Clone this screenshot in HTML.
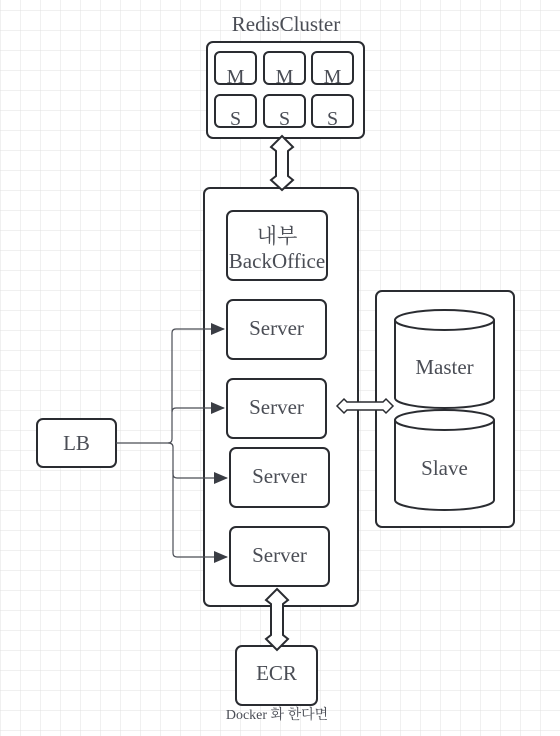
<!DOCTYPE html>
<html><head><meta charset="utf-8"><style>
html,body{margin:0;padding:0;background:#fff;}
svg{display:block;}
text{font-family:"Liberation Serif","Noto Serif CJK SC",serif;fill:#4a4d55;text-anchor:middle;}
</style></head><body>
<svg width="560" height="736" viewBox="0 0 560 736" xmlns="http://www.w3.org/2000/svg">
<defs>
<pattern id="g" width="20" height="20" patternUnits="userSpaceOnUse" x="0" y="10">
<path d="M0 0H20M0 0V20" stroke="#e0e0e0" stroke-width="1" fill="none"/>
</pattern>
<marker id="ar" markerWidth="14" markerHeight="12" refX="13" refY="6" orient="auto" markerUnits="userSpaceOnUse"><path d="M0,0 L14,6 L0,12 Z" fill="#3a3d44"/></marker>
</defs>
<rect width="560" height="736" fill="url(#g)"/>
<g fill="#fff" stroke="#2a2c31" stroke-width="2">
<rect x="207" y="42" width="157" height="96" rx="6"/>
<rect x="215" y="52" width="41" height="32" rx="5"/>
<rect x="264" y="52" width="41" height="32" rx="5"/>
<rect x="312" y="52" width="41" height="32" rx="5"/>
<rect x="215" y="95" width="41" height="32" rx="5"/>
<rect x="264" y="95" width="41" height="32" rx="5"/>
<rect x="312" y="95" width="41" height="32" rx="5"/>
<rect x="204" y="188" width="154" height="418" rx="6"/>
<rect x="227" y="211" width="100" height="69" rx="6"/>
<rect x="227" y="300" width="99" height="59" rx="6"/>
<rect x="227" y="379" width="99" height="59" rx="6"/>
<rect x="230" y="448" width="99" height="59" rx="6"/>
<rect x="230" y="527" width="99" height="59" rx="6"/>
<rect x="376" y="291" width="138" height="236" rx="6"/>
<path d="M395 320 V398 A49.5 10 0 0 0 494 398 V320"/>
<ellipse cx="444.5" cy="320" rx="49.5" ry="10"/>
<path d="M395 420 V500 A49.5 10 0 0 0 494 500 V420"/>
<ellipse cx="444.5" cy="420" rx="49.5" ry="10"/>
<rect x="37" y="419" width="79" height="48" rx="6"/>
<rect x="236" y="646" width="81" height="59" rx="6"/>
<path d="M282 136 L293 147 L288 151 V176 L293 180 L282 190 L271 180 L276 176 V151 L271 147 Z"/>
<path d="M277 589 L288 600 L283 604 V635 L288 639 L277 650 L266 639 L271 635 V604 L266 600 Z"/>
<path d="M337 406 L344 399 L347 402 H383 L386 399 L393 406 L386 413 L383 410 H347 L344 413 Z" stroke-width="1.5"/>
</g>
<g fill="none" stroke="#4a4d55" stroke-width="1.2">
<path d="M116 443 H168 Q172 443 172 439 V333 Q172 329 176 329 H224" marker-end="url(#ar)"/>
<path d="M172 412 Q172 408 176 408 H224" marker-end="url(#ar)"/>
<path d="M168 443 Q173 443 173 447 V474 Q173 478 177 478 H227" marker-end="url(#ar)"/>
<path d="M173 470 V553 Q173 557 177 557 H227" marker-end="url(#ar)"/>
</g>
<text x="286" y="31" font-size="21">RedisCluster</text>
<g font-size="20">
<text x="235.5" y="83">M</text><text x="284.5" y="83">M</text><text x="332.5" y="83">M</text>
<text x="235.5" y="125">S</text><text x="284.5" y="125">S</text><text x="332.5" y="125">S</text>
</g>
<g font-size="21">
<text x="277" y="243">내부</text>
<text x="277" y="268">BackOffice</text>
<text x="276.5" y="335">Server</text>
<text x="276.5" y="414">Server</text>
<text x="279.5" y="483">Server</text>
<text x="279.5" y="562">Server</text>
<text x="444.5" y="374">Master</text>
<text x="444.5" y="475">Slave</text>
<text x="76.5" y="450">LB</text>
<text x="276.5" y="680">ECR</text>
</g>
<text x="277" y="719" font-size="14">Docker 화 한다면</text>
</svg>
</body></html>
